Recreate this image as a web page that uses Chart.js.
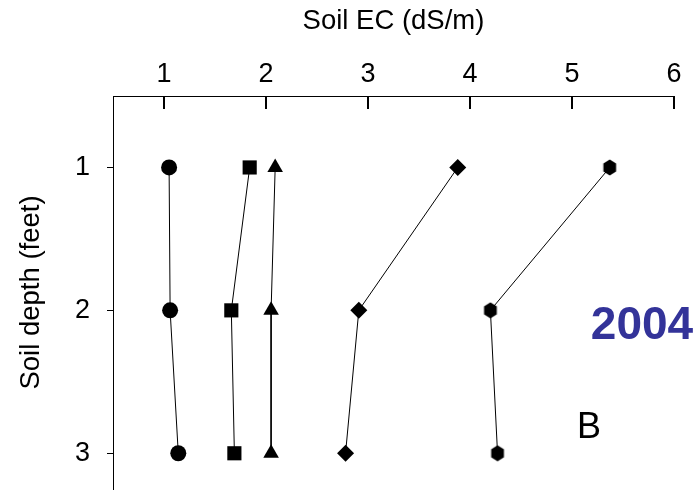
<!DOCTYPE html>
<html>
<head>
<meta charset="utf-8">
<script src="https://cdn.jsdelivr.net/npm/chart.js@4.4.1/dist/chart.umd.min.js"></script>
<style>
  html, body { margin: 0; padding: 0; background: #fff; }
  #wrap { width: 698px; height: 492px; }
</style>
</head>
<body>
<div id="wrap"><canvas id="ecChart" width="698" height="492"></canvas></div>
<script>
const depths = [1, 2, 3];
const circleEC = [1.05, 1.06, 1.14];
const squareEC = [1.84, 1.66, 1.69];
const triangleEC = [2.09, 2.05, 2.05];
const diamondEC = [3.88, 2.91, 2.78];
const hexagonEC = [5.37, 4.20, 4.27];
const xTicks = [1, 2, 3, 4, 5, 6];
const yTicks = [1, 2, 3];

const FONT = "'Liberation Sans', Arial, sans-serif";

// hexagon marker (Chart.js has no built-in hexagon)
const hex = document.createElement("canvas");
hex.width = 16;
hex.height = 17;
(function () {
  const c = hex.getContext("2d");
  const cx = 8, cy = 8.5, r = 8;
  c.beginPath();
  for (let i = 0; i < 6; i++) {
    const a = Math.PI / 2 + i * Math.PI / 3;
    const px = cx + r * Math.cos(a) * 0.92;
    const py = cy - r * Math.sin(a);
    if (i === 0) c.moveTo(px, py); else c.lineTo(px, py);
  }
  c.closePath();
  c.fillStyle = "#000";
  c.fill();
})();

function series(values, style, radius) {
  return {
    data: values.map((v, i) => ({ x: v, y: depths[i] })),
    showLine: true,
    borderColor: "#000",
    borderWidth: 1,
    backgroundColor: "#000",
    pointStyle: style,
    pointRadius: radius,
    pointHoverRadius: radius,
    pointBorderWidth: 0,
    pointBackgroundColor: "#000",
    clip: false,
  };
}

const innerTicks = {
  id: "innerTicks",
  afterDraw(chart) {
    const ctx = chart.ctx;
    const xs = chart.scales.x;
    const top = chart.chartArea.top;
    ctx.save();
    ctx.strokeStyle = "#000";
    ctx.lineWidth = 2;
    xTicks.forEach(v => {
      const px = Math.round(xs.getPixelForValue(v));
      ctx.beginPath();
      ctx.moveTo(px, top);
      ctx.lineTo(px, top + 13);
      ctx.stroke();
    });
    ctx.restore();
  }
};

const labels = {
  id: "labels",
  afterDraw(chart) {
    const ctx = chart.ctx;
    ctx.save();
    ctx.fillStyle = "#333399";
    ctx.font = "bold 46px " + FONT;
    ctx.textAlign = "center";
    ctx.textBaseline = "alphabetic";
    ctx.fillText("2004", 642, 339);
    ctx.fillStyle = "#000";
    ctx.font = "36px " + FONT;
    ctx.textAlign = "left";
    ctx.fillText("B", 577, 438);
    ctx.restore();
  }
};

new Chart(document.getElementById("ecChart").getContext("2d"), {
  type: "scatter",
  data: {
    datasets: [
      series(circleEC, "circle", 8),
      series(squareEC, "rect", 10),
      series(triangleEC, "triangle", 9),
      series(diamondEC, "rectRot", 8.5),
      series(hexagonEC, hex, 8),
    ],
  },
  options: {
    responsive: false,
    animation: false,
    layout: { autoPadding: false, padding: { left: 0, top: 0, right: 24, bottom: 3 } },
    plugins: {
      legend: { display: false },
      tooltip: { enabled: false },
    },
    scales: {
      x: {
        type: "linear",
        position: "top",
        min: 0.5,
        max: 6,
        afterBuildTicks: s => { s.ticks = xTicks.map(v => ({ value: v })); },
        afterFit: s => { s.height = 96; s.paddingLeft = 0; s.paddingRight = 0; },
        grid: { display: true, drawOnChartArea: false, drawTicks: false },
        border: { display: true, color: "#000", width: 1 },
        ticks: { color: "#000", font: { family: FONT, size: 27 }, padding: 5, maxRotation: 0 },
        title: {
          display: true,
          text: "Soil EC (dS/m)",
          color: "#000",
          font: { family: FONT, size: 27.5 },
          padding: { top: 5, bottom: 0 },
        },
      },
      y: {
        type: "linear",
        reverse: true,
        min: 0.5,
        max: 3.25,
        afterBuildTicks: s => { s.ticks = yTicks.map(v => ({ value: v })); },
        afterFit: s => { s.width = 113; s.paddingTop = 0; s.paddingBottom = 0; },
        grid: { display: true, drawOnChartArea: false, drawTicks: true, tickLength: 6, color: "#000" },
        border: { display: true, color: "#000", width: 1 },
        ticks: { color: "#000", font: { family: FONT, size: 27 }, padding: 17 },
        title: {
          display: true,
          text: "Soil depth (feet)",
          color: "#000",
          font: { family: FONT, size: 27.5 },
          padding: { top: 15, bottom: 0 },
        },
      },
    },
  },
  plugins: [innerTicks, labels],
});
</script>
</body>
</html>
